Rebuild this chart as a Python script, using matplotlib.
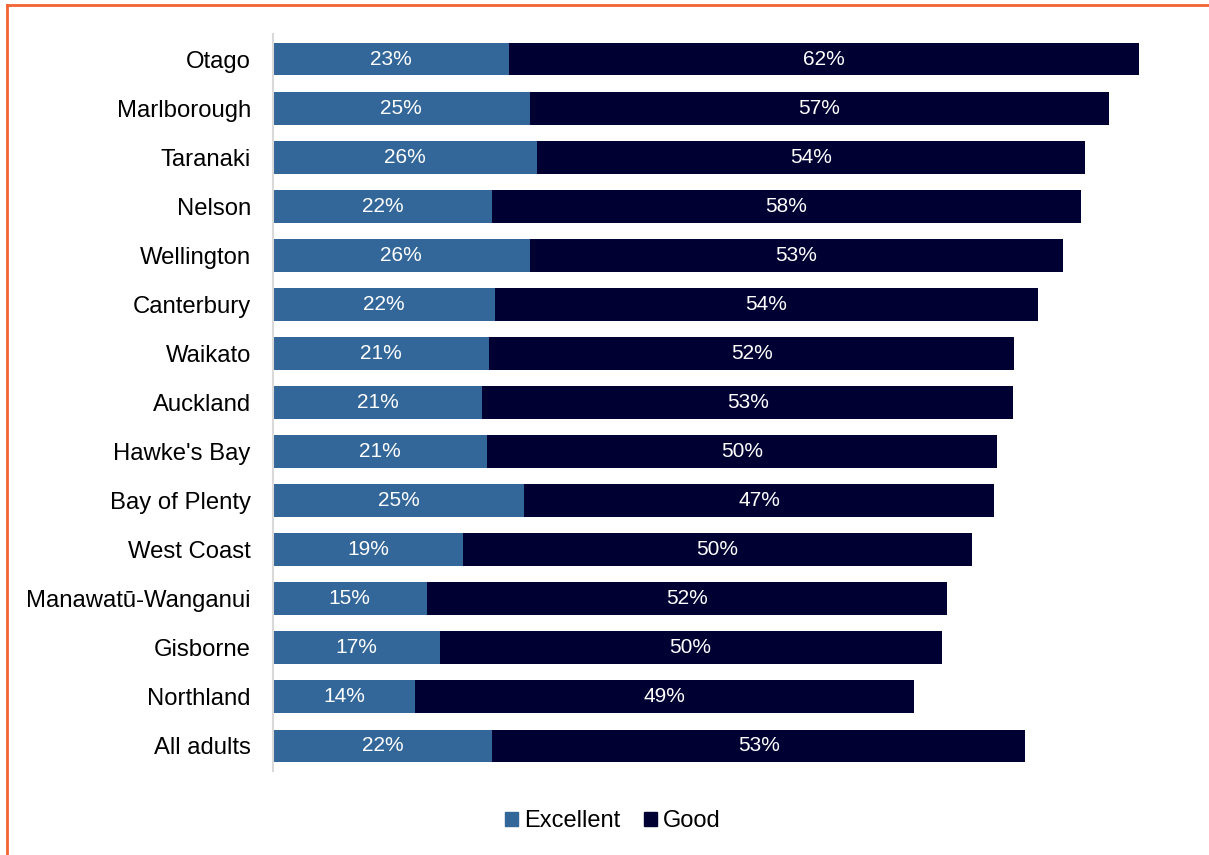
import matplotlib
matplotlib.use("Agg")
import matplotlib.pyplot as plt
from matplotlib.lines import Line2D
from matplotlib.patches import Patch

plt.rcParams['font.family'] = ['Liberation Sans', 'DejaVu Sans']

regions = ["Otago", "Marlborough", "Taranaki", "Nelson", "Wellington", "Canterbury",
           "Waikato", "Auckland", "Hawke's Bay", "Bay of Plenty", "West Coast",
           "Manawatū-Wanganui", "Gisborne", "Northland", "All adults"]
# values (unrounded), labels as printed
excellent = [23.4, 25.4, 26.1, 21.7, 25.4, 22.0, 21.4, 20.7, 21.2, 24.9, 18.8, 15.2, 16.5, 14.1, 21.7]
good = [62.3, 57.4, 54.3, 58.3, 52.8, 53.7, 52.0, 52.6, 50.5, 46.5, 50.4, 51.5, 49.7, 49.4, 52.8]
excellent_lbl = [23, 25, 26, 22, 26, 22, 21, 21, 21, 25, 19, 15, 17, 14, 22]
good_lbl = [62, 57, 54, 58, 53, 54, 52, 53, 50, 47, 50, 52, 50, 49, 53]

c_exc = "#336699"
c_good = "#000033"

W, H = 1209, 855
fig = plt.figure(figsize=(W / 100, H / 100), dpi=100)
ax = fig.add_axes([273 / W, 1 - 770.5 / H, (1200 - 273) / W, 736 / H])

y = list(range(len(regions)))
ax.barh(y, excellent, height=0.67, color=c_exc)
ax.barh(y, good, left=excellent, height=0.67, color=c_good)

for i in y:
    ax.text(excellent[i] / 2, i, f"{excellent_lbl[i]}%", color="white",
            ha="center", va="center", fontsize=15)
    ax.text(excellent[i] + good[i] / 2, i, f"{good_lbl[i]}%", color="white",
            ha="center", va="center", fontsize=15)

ax.set_ylim(len(regions) - 0.5, -0.5)
ax.set_xlim(0, (1200 - 273) / 10.1)
ax.set_yticks(y)
ax.set_yticklabels(regions, fontsize=17.2)
ax.tick_params(axis="y", length=0, pad=16)
ax.set_xticks([])
for s in ["top", "right", "bottom"]:
    ax.spines[s].set_visible(False)
ax.spines["left"].set_color("#d9d9d9")
ax.spines["left"].set_linewidth(1.5)

handles = [Patch(color=c_exc, label="Excellent"), Patch(color=c_good, label="Good")]
fig.legend(handles=handles, loc="center", bbox_to_anchor=(613 / W, 1 - 821 / H),
           ncol=2, frameon=False, fontsize=17, handlelength=0.55, handleheight=0.55,
           handletextpad=0.25, columnspacing=1.0)

# orange frame lines on the left and top
fig.add_artist(Line2D([7 / W, 7 / W], [0, 1 - 5.5 / H], color="#f26430", lw=2))
fig.add_artist(Line2D([7 / W, 1], [1 - 5.5 / H, 1 - 5.5 / H], color="#f26430", lw=2))

fig.savefig("out.png", dpi=100)
